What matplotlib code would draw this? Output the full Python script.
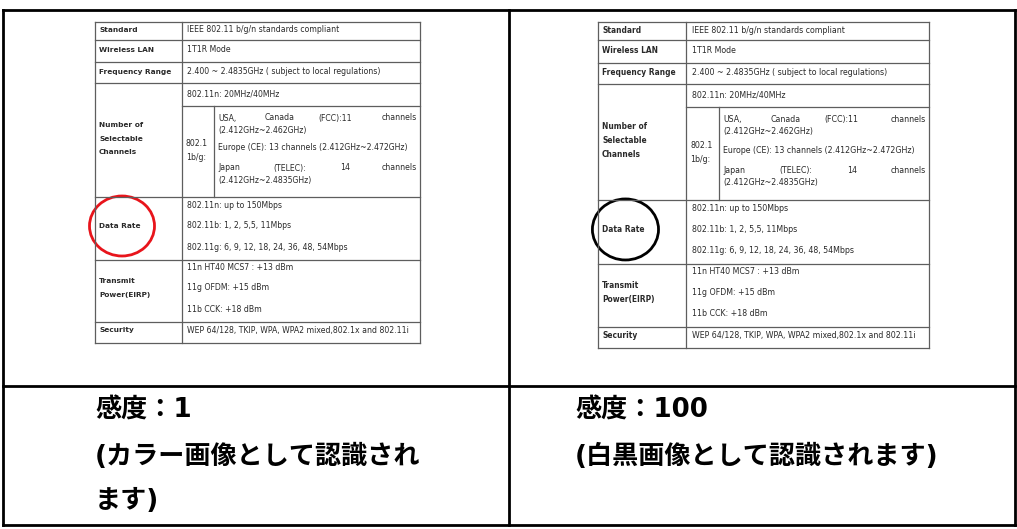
import matplotlib
matplotlib.use("Agg")
import matplotlib.pyplot as plt
from matplotlib.patches import Ellipse

# ---------------- data ----------------
row_labels = ["Standard", "Wireless LAN", "Frequency Range",
              ["Number of", "Selectable", "Channels"], "Data Rate",
              ["Transmit", "Power(EIRP)"], "Security"]
standard_txt = "IEEE 802.11 b/g/n standards compliant"
wlan_txt = "1T1R Mode"
freq_txt = "2.400 ~ 2.4835GHz ( subject to local regulations)"
n_channels_txt = "802.11n: 20MHz/40MHz"
bg_label = ["802.1", "1b/g:"]
usa_words = ["USA,", "Canada", "(FCC):11", "channels"]
usa_range = "(2.412GHz~2.462GHz)"
europe_txt = "Europe (CE): 13 channels (2.412GHz~2.472GHz)"
japan_words = ["Japan", "(TELEC):", "14", "channels"]
japan_range = "(2.412GHz~2.4835GHz)"
data_rate_lines = ["802.11n: up to 150Mbps", "802.11b: 1, 2, 5,5, 11Mbps",
                   "802.11g: 6, 9, 12, 18, 24, 36, 48, 54Mbps"]
power_lines = ["11n HT40 MCS7 : +13 dBm", "11g OFDM: +15 dBm", "11b CCK: +18 dBm"]
security_txt = "WEP 64/128, TKIP, WPA, WPA2 mixed,802.1x and 802.11i"

sensitivity = ["1", "100"]
captions = [["(カラー画像として認識され", "ます)"], ["(白黒画像として認識されます)"]]
circle_colors = ["#e8141b", "black"]

# ---------------- figure ----------------
fig = plt.figure(figsize=(10.17, 5.29), dpi=100)
ax = fig.add_axes([0, 0, 1, 1])
ax.set_xlim(0, 1017)
ax.set_ylim(529, 0)
ax.axis("off")

LC = "#5e5e5e"
TC = "#2a2a2a"
FS = 5.55
FSB = 5.35


def draw_table(ox, oy, s, circ_color):
    X = lambda x: ox + (x - 95) * s
    Y = lambda y: oy + (y - 22) * s
    # horizontal lines
    for y in [22, 40, 62, 83, 197, 260, 322, 343]:
        ax.plot([X(95), X(420)], [Y(y), Y(y)], color=LC, lw=0.9)
    ax.plot([X(182), X(420)], [Y(106), Y(106)], color=LC, lw=0.9)
    for x in [95, 182, 420]:
        ax.plot([X(x), X(x)], [Y(22), Y(343)], color=LC, lw=0.9)
    ax.plot([X(214), X(214)], [Y(106), Y(197)], color=LC, lw=0.9)

    def lab(x, y, t):
        ax.text(X(x), Y(y), t, fontsize=FSB * s, fontweight="bold", color=TC,
                ha="left", va="center", family="DejaVu Sans")

    def txt(x, y, t, ha="left"):
        ax.text(X(x), Y(y), t, fontsize=FS * s, color=TC, ha=ha, va="center",
                family="DejaVu Sans")

    label_y = [30, 50, 72, [125, 139, 152], 226, [281, 295], 330]
    for lbl, ly in zip(row_labels, label_y):
        if isinstance(lbl, list):
            for l, yy in zip(lbl, ly):
                lab(99, yy, l)
        else:
            lab(99, ly, lbl)

    txt(187, 30, standard_txt)
    txt(187, 50, wlan_txt)
    txt(187, 72, freq_txt)
    txt(187, 94, n_channels_txt)
    txt(186, 143, bg_label[0])
    txt(186, 157, bg_label[1])
    for w, x, ha in zip(usa_words, [218, 265, 318, 417], ["left", "left", "left", "right"]):
        txt(x, 118, w, ha)
    txt(218, 130, usa_range)
    txt(218, 148, europe_txt)
    for w, x, ha in zip(japan_words, [218, 273, 340, 417], ["left", "left", "left", "right"]):
        txt(x, 168, w, ha)
    txt(218, 180, japan_range)
    for l, yy in zip(data_rate_lines, [205, 226, 247]):
        txt(187, yy, l)
    for l, yy in zip(power_lines, [267, 288, 309]):
        txt(187, yy, l)
    txt(187, 330, security_txt)

    ax.add_patch(Ellipse((X(122), Y(226)), 65 * s, 60 * s, fill=False,
                         edgecolor=circ_color, lw=2.0))


draw_table(95, 22, 1.0, circle_colors[0])
draw_table(598, 22, 1.017, circle_colors[1])

# outer frame
FW = 2.0
ax.plot([3, 1015], [10, 10], color="black", lw=FW, solid_capstyle="projecting")
ax.plot([3, 1015], [386, 386], color="black", lw=FW, solid_capstyle="projecting")
ax.plot([3, 1015], [525, 525], color="black", lw=FW, solid_capstyle="projecting")
for x in [3, 509, 1015]:
    ax.plot([x, x], [10, 525], color="black", lw=FW, solid_capstyle="projecting")

# captions
CJK = ["DejaVu Sans", "Noto Sans CJK JP"]
FSC = 18.8
for i, (sv, cap) in enumerate(zip(sensitivity, captions)):
    x0 = [95, 575][i]
    ax.text(x0, 411, "感度：" + sv, fontsize=FSC, fontweight="bold",
            family=CJK, ha="left", va="center", color="black")
    for j, line in enumerate(cap):
        ax.text(x0, 457 + 44 * j, line, fontsize=FSC, fontweight="bold",
                family=CJK, ha="left", va="center", color="black")

fig.savefig("out.png", dpi=100)
